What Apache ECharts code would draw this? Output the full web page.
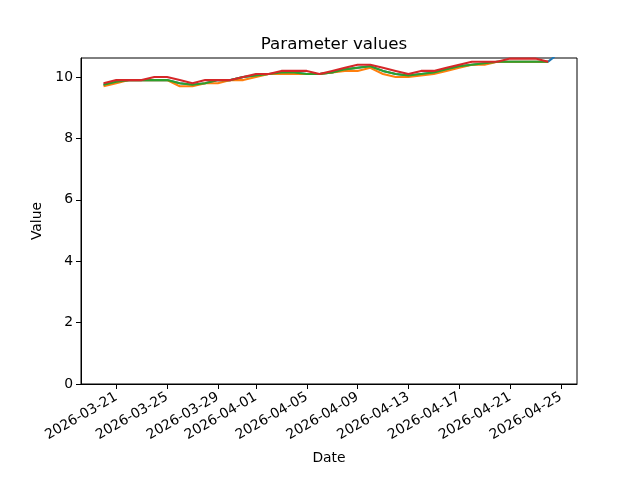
<!DOCTYPE html>
<html>
<head>
<meta charset="utf-8">
<script src="https://cdn.jsdelivr.net/npm/echarts@6/dist/echarts.min.js"></script>
<style>
html,body{margin:0;padding:0;background:#fff;}
#chart{width:640px;height:480px;}
</style>
</head>
<body>
<div id="chart"></div>
<script>
// ---- data ----
const dates = ['2026-03-20','2026-03-21','2026-03-22','2026-03-23','2026-03-24','2026-03-25','2026-03-26','2026-03-27','2026-03-28','2026-03-29','2026-03-30','2026-03-31','2026-04-01','2026-04-02','2026-04-03','2026-04-04','2026-04-05','2026-04-06','2026-04-07','2026-04-08','2026-04-09','2026-04-10','2026-04-11','2026-04-12','2026-04-13','2026-04-14','2026-04-15','2026-04-16','2026-04-17','2026-04-18','2026-04-19','2026-04-20','2026-04-21','2026-04-22','2026-04-23','2026-04-24'];
const blueExtraDate = '2026-04-24T12:00';
const blueValues   = [9.75,9.85,9.9,9.9,9.9,9.9,9.8,9.75,9.8,9.9,9.9,10.0,10.05,10.1,10.1,10.15,10.1,10.1,10.15,10.25,10.3,10.35,10.2,10.1,10.05,10.1,10.15,10.25,10.35,10.4,10.45,10.5,10.5,10.5,10.5,10.5,10.66];
const orangeValues = [9.7,9.8,9.9,9.9,9.9,9.9,9.7,9.7,9.8,9.8,9.9,9.9,10.0,10.1,10.1,10.1,10.1,10.1,10.15,10.2,10.2,10.3,10.1,10.0,10.0,10.05,10.1,10.2,10.3,10.4,10.4,10.5,10.5,10.5,10.5,10.5];
const greenValues  = [9.75,9.85,9.9,9.9,9.9,9.9,9.8,9.75,9.8,9.9,9.9,10.0,10.05,10.1,10.15,10.15,10.1,10.1,10.15,10.25,10.3,10.35,10.2,10.1,10.05,10.1,10.15,10.25,10.35,10.4,10.45,10.5,10.5,10.5,10.5,10.5];
const redValues    = [9.8,9.9,9.9,9.9,10.0,10.0,9.9,9.8,9.9,9.9,9.9,10.0,10.1,10.1,10.2,10.2,10.2,10.1,10.2,10.3,10.4,10.4,10.3,10.2,10.1,10.2,10.2,10.3,10.4,10.5,10.5,10.5,10.6,10.6,10.6,10.5];
const xTickLabels = ['2026-03-21','2026-03-25','2026-03-29','2026-04-01','2026-04-05','2026-04-09','2026-04-13','2026-04-17','2026-04-21','2026-04-25'];
const yTickLabels = [0,2,4,6,8,10];

function ts(s){ return Date.parse(s.length===10 ? s+'T00:00:00Z' : s+':00Z'); }
function pad(n){ return n<10?'0'+n:''+n; }
function fmt(v){ const d=new Date(v); return d.getUTCFullYear()+'-'+pad(d.getUTCMonth()+1)+'-'+pad(d.getUTCDate()); }

const xs = dates.map(ts);
const blueXs = xs.concat([ts(blueExtraDate)]);
const dataMin = xs[0], dataMax = ts(blueExtraDate);
const span = dataMax - dataMin;
const xMin = dataMin - 0.05*span, xMax = dataMax + 0.05*span;
const xTicks = xTickLabels.map(ts);

function mk(xarr, yarr){ return yarr.map((v,i)=>[xarr[i], v]); }
const font = 'DejaVu Sans';
function line(name, color, data){
  return {name, type:'line', data, showSymbol:false, symbol:'none', clip:true,
    lineStyle:{color, width:2.08}, itemStyle:{color}, animation:false};
}

const chart = echarts.init(document.getElementById('chart'), null, {renderer:'canvas'});
chart.setOption({
  animation:false,
  backgroundColor:'#fff',
  title:{text:'Parameter values', left:329, top:31, textAlign:'center',
    textStyle:{fontFamily:font, fontSize:16.7, fontWeight:'normal', color:'#000'}},
  grid:{left:81, top:58, width:496, height:326, show:true, borderColor:'#000', borderWidth:1, backgroundColor:'transparent', containLabel:false},
  xAxis:{type:'value', min:xMin, max:xMax, scale:true,
    name:'Date', nameLocation:'middle', nameGap:67,
    nameTextStyle:{fontFamily:font, fontSize:13.9, color:'#000'},
    axisLine:{show:true, lineStyle:{color:'#000', width:1}},
    axisTick:{show:true, length:5, lineStyle:{color:'#000', width:1}, customValues:xTicks},
    axisLabel:{fontFamily:font, fontSize:13.9, color:'#000', rotate:30, margin:12, customValues:xTicks, formatter:(v)=>fmt(v), hideOverlap:false},
    splitLine:{show:false}},
  yAxis:{type:'value', min:0, max:10.62,
    name:'Value', nameLocation:'middle', nameGap:37,
    nameTextStyle:{fontFamily:font, fontSize:13.9, color:'#000'},
    axisLine:{show:true, lineStyle:{color:'#000', width:1}},
    axisTick:{show:true, length:5, lineStyle:{color:'#000', width:1}, customValues:yTickLabels},
    axisLabel:{fontFamily:font, fontSize:13.9, color:'#000', margin:8, customValues:yTickLabels},
    splitLine:{show:false}},
  series:[
    line('blue','#1f77b4', mk(blueXs, blueValues)),
    line('orange','#ff7f0e', mk(xs, orangeValues)),
    line('green','#2ca02c', mk(xs, greenValues)),
    line('red','#d62728', mk(xs, redValues))
  ]
});
</script>
</body>
</html>
